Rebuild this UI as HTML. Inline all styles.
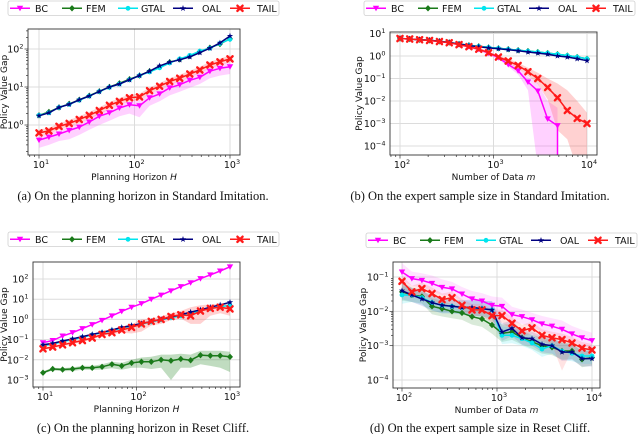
<!DOCTYPE html>
<html><head><meta charset="utf-8">
<style>
body{margin:0;background:#fff;}
svg{display:block;}
text{font-family:"DejaVu Sans","Liberation Sans",sans-serif;}
.cap{font-family:"Liberation Serif",serif;font-size:12.5px;fill:#111;}
</style></head>
<body>
<svg id="chart" width="640" height="434" viewBox="0 0 640 434" xmlns="http://www.w3.org/2000/svg"></svg>
<script>
// ---------- Data ----------
const aX = [10,12.7,16.2,20.7,26.4,33.6,42.8,54.6,69.5,88.6,112.9,143.8,183.3,233.6,297.6,379.3,483.3,615.8,784.8,1000];
const aFEM  = [1.8,2.2,2.9,3.6,4.6,5.9,7.7,10,12.5,16,20,26,34,45,53,65,85,108,135,185];
const aGTAL = [1.8,2.1,2.9,3.5,4.5,5.8,7.6,9.8,12,15.5,20,25,32,43,55,68,88,105,140,180];
const aOAL  = [1.75,2.1,2.9,3.5,4.6,5.8,7.6,10,12,15.5,20,26,36,45,52,62,80,105,145,220];
const aTAIL = [0.62,0.7,0.92,1.1,1.4,1.8,2.4,3.3,4.2,5.2,5.5,8,10.5,14,17,22,28,38,46,55];
const aBC   = [0.4,0.48,0.58,0.72,0.88,1.2,1.7,2.1,2.8,3.4,3.2,5.2,6.6,9.5,11.5,15,18,26,31,34];
const aBCLo = [0.25,0.3,0.38,0.42,0.55,0.75,1.0,1.3,1.7,2.0,1.6,3.2,4.2,6,7.5,9.5,12,17,20,22];
const aBCHi = [0.5,0.58,0.72,0.9,1.1,1.5,2.1,2.6,3.5,4.2,4.5,6.5,8.5,12,14,19,24,32,40,45];
const aTLo  = [0.5,0.57,0.75,0.9,1.1,1.45,1.9,2.6,3.4,4.2,4.4,6.5,8.5,11.5,14,18,23,31,38,45];
const aTHi  = [0.75,0.85,1.1,1.35,1.7,2.2,2.9,4,5.1,6.3,6.7,9.7,12.7,17,21,27,34,46,56,68];

const bX = [100,127,162,207,264,336,428,546,695,886,1129,1438,1833,2336,2976,3793,4833,6158,7848,10000];
const bFEM  = [6,5.7,5.3,5,4.5,4,3.4,3,2.7,2.4,2.2,2,1.8,1.65,1.5,1.35,1.2,1.05,0.9,0.75];
const bGTAL = [6,5.7,5.3,5,4.5,4,3.4,3,2.7,2.4,2.2,2,1.8,1.65,1.5,1.35,1.2,1.05,0.9,0.75];
const bOAL  = [6,5.7,5.3,5,4.5,4,3.4,2.9,2.6,2.3,2.1,1.9,1.7,1.5,1.35,1.2,1.0,0.9,0.75,0.62];
const bTAIL = [6,5.7,5.3,4.9,4.4,3.9,3.2,2.6,2.0,1.4,0.9,0.6,0.38,0.2,0.1,0.04,0.014,0.0038,0.0017,0.001];
const bBC   = [6,5.7,5.3,4.9,4.4,3.9,3.2,2.6,2.0,1.35,0.85,0.42,0.22,0.07,0.028,0.0016,0.0008,null,null,null];
const bBCLo = [5.5,5.2,4.9,4.5,4,3.6,2.9,2.3,1.7,1.1,0.7,0.33,0.15,0.03,0.00001,0.00001,0.00001,null,null,null];
const bBCHi = [6.5,6.2,5.8,5.3,4.8,4.2,3.5,2.9,2.3,1.6,1.0,0.55,0.3,0.12,0.06,0.01,0.005,null,null,null];
const bTLo  = [5.5,5.2,4.9,4.5,4,3.6,2.9,2.3,1.7,1.2,0.75,0.48,0.28,0.13,0.055,0.012,0.0005,0.0002,0.00001,0.00001];
const bTHi  = [6.5,6.2,5.8,5.3,4.8,4.2,3.5,2.9,2.3,1.6,1.05,0.75,0.5,0.3,0.18,0.1,0.06,0.03,0.01,0.003];

const cX = aX;
const cBC   = [0.07,0.09,0.15,0.22,0.35,0.55,0.9,1.5,2.5,4,6,10,16,26,42,65,105,160,250,400];
const cFEM  = [0.0023,0.0035,0.0033,0.0035,0.004,0.004,0.0045,0.006,0.005,0.007,0.008,0.008,0.01,0.009,0.011,0.0095,0.017,0.016,0.016,0.014];
const cGTAL = [0.05,0.06,0.08,0.1,0.13,0.17,0.22,0.28,0.37,0.47,0.58,0.75,0.95,1.2,1.5,2.0,2.7,3.4,4.2,5];
const cOAL  = [0.055,0.065,0.085,0.11,0.14,0.18,0.23,0.3,0.4,0.5,0.62,0.8,1.0,1.3,1.7,2.3,3.0,4,5.2,7];
const cTAIL = [0.035,0.043,0.055,0.07,0.09,0.12,0.18,0.22,0.3,0.4,0.6,0.8,1.0,1.4,1.7,1.5,2.6,3.5,4,3.3];
const cTLo  = [0.03,0.037,0.047,0.06,0.077,0.1,0.15,0.18,0.22,0.2,0.25,0.5,0.6,0.9,1.1,0.6,0.6,1.5,2,1.5];
const cTHi  = [0.04,0.05,0.064,0.082,0.105,0.14,0.21,0.27,0.4,0.55,1.0,1.1,1.4,2.0,2.6,4,5,5.5,6,6];
const cFLo  = [0.002,0.003,0.0027,0.0028,0.0032,0.0032,0.0033,0.0038,0.0032,0.004,0.004,0.0035,0.004,0.001,0.004,0.004,0.006,0.005,0.004,0.0025];
const cFHi  = [0.0027,0.004,0.0039,0.0042,0.005,0.005,0.006,0.008,0.007,0.01,0.013,0.014,0.018,0.018,0.02,0.018,0.028,0.028,0.028,0.025];

const dX = bX;
const dBC   = [0.14,0.09,0.08,0.065,0.05,0.045,0.032,0.023,0.02,0.015,0.014,0.008,0.007,0.0057,0.0043,0.0037,0.003,0.0022,0.0017,0.0014];
const dFEM  = [0.037,0.03,0.027,0.014,0.012,0.01,0.009,0.007,0.006,0.004,0.0023,0.0025,0.0017,0.0013,0.001,0.0009,0.0007,0.0007,0.0004,0.00045];
const dGTAL = [0.03,0.03,0.025,0.018,0.015,0.014,0.013,0.012,0.012,0.011,0.002,0.002,0.0016,0.0012,0.0008,0.001,0.0007,0.0006,0.0005,0.0005];
const dOAL  = [0.04,0.03,0.023,0.018,0.015,0.014,0.013,0.013,0.012,0.011,0.0025,0.0032,0.0017,0.0016,0.0011,0.001,0.00065,0.00065,0.00042,0.00042];
const dTAIL = [0.075,0.037,0.046,0.033,0.022,0.025,0.015,0.011,0.011,0.0075,0.0075,0.0045,0.0027,0.0033,0.002,0.0017,0.0015,0.0012,0.00085,0.00075];
const dSpread = [1.8,1.6,1.6,1.7,1.7,1.6,1.6,1.7,1.7,1.8,1.8,1.7,1.6,1.6,1.7,1.7,1.8,1.7,1.7,1.7];
const dTSpread = [1.6,1.5,1.5,1.5,1.5,1.5,1.5,1.5,1.5,1.6,1.6,1.6,1.5,1.5,1.5,1.6,8,1.6,1.5,1.5];

const COLORS = {BC:'#ff00ff',FEM:'#1a7a1a',GTAL:'#00e5ee',OAL:'#000080',TAIL:'#ff1a1a'};
const BANDC = {BC:'#ff66ff',FEM:'#2e8b2e',GTAL:'#33e6f0',OAL:'#5555bb',TAIL:'#ff6666'};
const NAMES = ['BC','FEM','GTAL','OAL','TAIL'];

const svg = document.getElementById('chart');
const NS = 'http://www.w3.org/2000/svg';
function el(tag, attrs, parent){
  const e = document.createElementNS(NS, tag);
  for (const k in attrs) e.setAttribute(k, attrs[k]);
  (parent||svg).appendChild(e);
  return e;
}

function marker(g, name, x, y){
  const c = COLORS[name]; let m;
  if (name==='BC') m = el('path',{d:`M${x-3.2},${y-2.5} L${x+3.2},${y-2.5} L${x},${y+3} Z`,fill:c},g);
  else if (name==='FEM') m = el('path',{d:`M${x},${y-3.2} L${x+3},${y} L${x},${y+3.2} L${x-3},${y} Z`,fill:c},g);
  else if (name==='GTAL') m = el('circle',{cx:x,cy:y,r:2.4,fill:c},g);
  else if (name==='OAL'){
    let p=''; for(let i=0;i<10;i++){const r=i%2?1.3:3.3;const a=-Math.PI/2+i*Math.PI/5;p+=(i?'L':'M')+(x+r*Math.cos(a)).toFixed(2)+','+(y+r*Math.sin(a)).toFixed(2);}
    m = el('path',{d:p+'Z',fill:c},g);
  } else {
    m = el('path',{d:`M${x-2.6},${y-2.6} L${x+2.6},${y+2.6} M${x+2.6},${y-2.6} L${x-2.6},${y+2.6}`,stroke:c,'stroke-width':2.4,'stroke-linecap':'round'},g);
  }
  
  
}

function legend(x, y, id){
  const g = el('g',{},svg);
  
  
  el('rect',{x:x,y:y,width:271,height:14.5,rx:2,fill:'#fff',stroke:'#d0d0d0','stroke-width':0.8},g);
  const lx=[2,54,110,165,222], tx=[27,78,133,194,249];
  NAMES.forEach((n,i)=>{
    const e = el('g',{},g);
    
    
    el('line',{x1:x+lx[i],x2:x+lx[i]+20,y1:y+7.3,y2:y+7.3,stroke:COLORS[n],'stroke-width':1.5},e);
    marker(e,n,x+lx[i]+10,y+7.3);
    const t = el('text',{x:x+tx[i],y:y+10.8,'font-size':9.5,fill:'#111'},e);
    t.textContent = n;
  });
}

function panel(cfg){
  const g = el('g',{},svg);
  
  
  const [L,T,R,B] = cfg.rect;
  const sx = v => cfg.x0p + (Math.log10(v)-cfg.x0)*(cfg.x1p-cfg.x0p)/(cfg.x1-cfg.x0);
  const sy = v => cfg.y0p + (Math.log10(v)-cfg.y0)*(cfg.y1p-cfg.y0p)/(cfg.y1-cfg.y0);
  const lx = v => sx(Math.pow(10,v)), ly = v => sy(Math.pow(10,v));
  el('rect',{x:L,y:T,width:R-L,height:B-T,fill:'#fff'},g);
  const cid = 'clip'+cfg.id;
  const cp = el('clipPath',{id:cid},g); el('rect',{x:L,y:T,width:R-L,height:B-T},cp);
  const grid = el('g',{},g);
   
  cfg.xt.forEach(v=>el('line',{x1:lx(v),x2:lx(v),y1:T,y2:B,stroke:'#dcdcdc','stroke-width':1},grid));
  cfg.yt.forEach(v=>el('line',{x1:L,x2:R,y1:ly(v),y2:ly(v),stroke:'#dcdcdc','stroke-width':1},grid));
  const plot = el('g',{'clip-path':`url(#${cid})`},g);
  cfg.bands.forEach(b=>{
    let pts=[], lo=[];
    cfg.X.forEach((xv,i)=>{ if(b.hi[i]!=null){pts.push([sx(xv),sy(b.hi[i])]); lo.push([sx(xv),sy(b.lo[i])]);} });
    const all = pts.concat(lo.reverse());
    const p = el('path',{d:'M'+all.map(q=>q[0].toFixed(1)+','+Math.min(q[1],B+200).toFixed(1)).join('L')+'Z',fill:BANDC[b.name],opacity:cfg.bandOp||0.3},plot);
    
    
  });
  cfg.series.forEach(s=>{
    const sg = el('g',{},plot);
    
    
    let pts=[];
    cfg.X.forEach((xv,i)=>{ if(s.v[i]!=null) pts.push([sx(xv),sy(s.v[i])]); });
    let d='M'+pts.map(q=>q[0].toFixed(1)+','+q[1].toFixed(1)).join('L');
    if (s.drop){ d += 'L'+pts[pts.length-1][0].toFixed(1)+','+(B+5); }
    el('path',{d:d,fill:'none',stroke:COLORS[s.name],'stroke-width':1.5,'stroke-linejoin':'round'},sg);
    pts.forEach(q=>marker(sg,s.name,q[0],q[1]));
  });
  el('rect',{x:L,y:T,width:R-L,height:B-T,fill:'none',stroke:'#333','stroke-width':0.9},g);
  const ax = el('g',{},g);
   
  const ay = el('g',{},g);
   
  for(let d=Math.floor(cfg.x0)-1; d<=cfg.x1+1; d++){
    for(let k=1;k<10;k++){
      const v=d+Math.log10(k); const px=lx(v);
      if(px<L-0.1||px>R+0.1) continue;
      el('line',{x1:px,x2:px,y1:B,y2:B+(k===1?3.5:2),stroke:'#333','stroke-width':0.7},ax);
    }
  }
  cfg.xt.forEach(v=>{
    const t = el('text',{x:lx(v)+2,y:B+13,'font-size':9.5,'text-anchor':'middle',fill:'#111'},ax);
    t.textContent='10';
    const s = el('tspan',{dy:-4,'font-size':6.5},t); s.textContent=String(v);
  });
  for(let d=Math.floor(cfg.y0)-2; d<=cfg.y1+2; d++){
    for(let k=1;k<10;k++){
      const v=d+Math.log10(k); const py=ly(v);
      if(py<T-0.1||py>B+0.1) continue;
      el('line',{x1:L,x2:L-(k===1?3.5:2),y1:py,y2:py,stroke:'#333','stroke-width':0.7},ay);
    }
  }
  cfg.yt.forEach(v=>{
    const lab = String(v).replace('-','\u2212');
    const t = el('text',{x:L-4.5,y:ly(v)+3.5,'font-size':9.5,'text-anchor':'end',fill:'#111'},ay);
    t.textContent='10';
    const s = el('tspan',{dy:-4,'font-size':6.5},t); s.textContent=lab;
  });
  const xl = el('text',{x:(L+R)/2,y:B+25,'font-size':9,'text-anchor':'middle',fill:'#111'},g);
   
  xl.textContent = cfg.xlabel+' ';
  const it = el('tspan',{'font-style':'italic'},xl); it.textContent = cfg.xvar;
  const yl = el('text',{x:cfg.ylx,y:(T+B)/2,'font-size':9,'text-anchor':'middle',fill:'#111',transform:`rotate(-90 ${cfg.ylx} ${(T+B)/2})`},g);
   
  yl.textContent='Policy Value Gap';
  const cap = el('text',{x:cfg.capx,y:cfg.capy,'text-anchor':'middle',class:'cap'},g);
   
  cap.textContent = cfg.caption;
}

legend(8,1,'a'); legend(364,1,'b'); legend(8,232,'c'); legend(366,233,'d');

panel({id:'a',rect:[28,29,240,155],x0:1,x0p:39,x1:3,x1p:230,y0:0,y0p:125,y1:2,y1p:49,
  xt:[1,2,3],yt:[0,1,2],X:aX,ylx:7,xlabel:'Planning Horizon',xvar:'H',capx:143,capy:200,
  caption:'(a) On the planning horizon in Standard Imitation.',
  bands:[{name:'BC',lo:aBCLo,hi:aBCHi},{name:'TAIL',lo:aTLo,hi:aTHi}],
  series:[{name:'BC',v:aBC},{name:'FEM',v:aFEM},{name:'GTAL',v:aGTAL},{name:'OAL',v:aOAL},{name:'TAIL',v:aTAIL}]});

panel({id:'b',rect:[390,32,597,155],x0:2,x0p:400,x1:4,x1p:587,y0:1,y0p:33.5,y1:-4,y1p:146,
  xt:[2,3,4],yt:[-4,-3,-2,-1,0,1],X:bX,ylx:362,xlabel:'Number of Data',xvar:'m',capx:480,capy:200,
  caption:'(b) On the expert sample size in Standard Imitation.',
  bands:[{name:'BC',lo:bBCLo,hi:bBCHi},{name:'TAIL',lo:bTLo,hi:bTHi}],
  series:[{name:'BC',v:bBC,drop:true},{name:'FEM',v:bFEM},{name:'GTAL',v:bGTAL},{name:'OAL',v:bOAL},{name:'TAIL',v:bTAIL}]});

panel({id:'c',rect:[33,262,240,387],x0:1,x0p:43,x1:3,x1p:230,y0:2,y0p:279,y1:-3,y1p:380,
  xt:[1,2,3],yt:[-3,-2,-1,0,1,2],X:cX,ylx:7,xlabel:'Planning Horizon',xvar:'H',capx:143,capy:432,
  caption:'(c) On the planning horizon in Reset Cliff.',
  bands:[{name:'TAIL',lo:cTLo,hi:cTHi},{name:'FEM',lo:cFLo,hi:cFHi}],
  series:[{name:'BC',v:cBC},{name:'FEM',v:cFEM},{name:'GTAL',v:cGTAL},{name:'OAL',v:cOAL},{name:'TAIL',v:cTAIL}]});

const dBands = [
  {name:'BC',lo:dBC.map((v,i)=>v/dSpread[i]),hi:dBC.map((v,i)=>v*dSpread[i])},
  {name:'FEM',lo:dFEM.map((v,i)=>v/dSpread[i]),hi:dFEM.map((v,i)=>v*dSpread[i])},
  {name:'GTAL',lo:dGTAL.map((v,i)=>v/dSpread[i]),hi:dGTAL.map((v,i)=>v*dSpread[i])},
  {name:'OAL',lo:dOAL.map((v,i)=>v/dSpread[i]),hi:dOAL.map((v,i)=>v*dSpread[i])},
  {name:'TAIL',lo:dTAIL.map((v,i)=>v/dTSpread[i]),hi:dTAIL.map((v,i)=>v*1.5)}
];
panel({id:'d',rect:[393,262,600,388],x0:2,x0p:402,x1:4,x1p:592,y0:-1,y0p:277,y1:-4,y1p:380,
  xt:[2,3,4],yt:[-4,-3,-2,-1],X:dX,ylx:366,xlabel:'Number of Data',xvar:'m',capx:480,capy:432,
  caption:'(d) On the expert sample size in Reset Cliff.',bandOp:0.18,
  bands:dBands,
  series:[{name:'BC',v:dBC},{name:'FEM',v:dFEM},{name:'GTAL',v:dGTAL},{name:'OAL',v:dOAL},{name:'TAIL',v:dTAIL}]});
</script>
</body></html>
